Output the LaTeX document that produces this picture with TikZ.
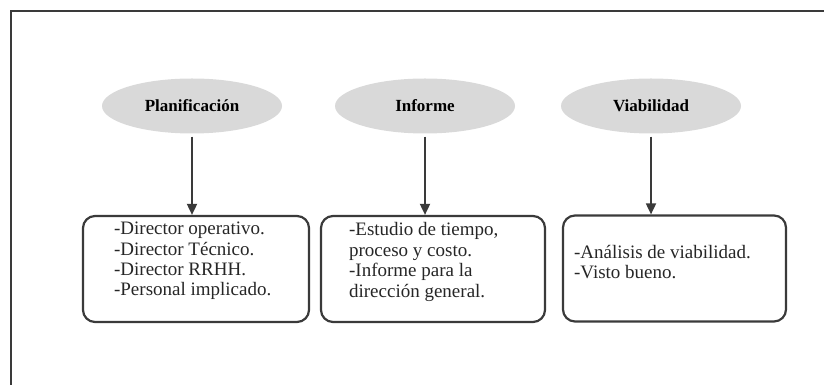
\documentclass[tikz,border=0pt]{standalone}
\usepackage{fontspec}
\setmainfont{Liberation Serif}
\usetikzlibrary{shapes.geometric,arrows.meta}
\definecolor{ovalgray}{HTML}{D9D9D9}
\definecolor{linegray}{HTML}{3A3A3A}
\definecolor{textgray}{HTML}{262626}
\tikzstyle{phase}=[ellipse,fill=ovalgray,minimum width=180pt,minimum height=55pt,inner sep=0pt,text=black,font=\fontsize{17}{18}\selectfont\bfseries]
\tikzstyle{taskbox}=[draw=linegray,line width=2.2pt,rounded corners=12pt,minimum height=106pt,inner sep=0pt]
\tikzstyle{tasktext}=[anchor=west,align=left,inner sep=0pt,text=textgray,font=\fontsize{19}{20.4}\selectfont]

\begin{document}
\begin{tikzpicture}[x=1pt,y=1pt]
    \useasboundingbox (0,0) rectangle (824,385);
    \draw[linegray,line width=2.6pt] (11,0) -- (11,374) -- (824,374);

    \node[phase] (p1) at (192,279) {Planificación};
    \node[phase] (p2) at (425,279) {Informe};
    \node[phase] (p3) at (651,279) {Viabilidad};

    \node[taskbox,minimum width=226pt] (b1) at (196,116) {};
    \node[taskbox,minimum width=224pt] (b2) at (433,116) {};
    \node[taskbox,minimum width=223pt] (b3) at (674.5,116.5) {};

    \node[tasktext] (t1) at ([xshift=32pt,yshift=8pt]b1.west) {-Director operativo.\\-Director Técnico.\\-Director RRHH.\\-Personal implicado.};
    \node[tasktext] (t2) at ([xshift=29pt,yshift=7pt]b2.west) {-Estudio de tiempo,\\proceso y costo.\\-Informe para la\\dirección general.};
    \node[tasktext] (t3) at ([xshift=12pt,yshift=6.5pt]b3.west) {-Análisis de viabilidad.\\-Visto bueno.};

    \foreach \from/\to in {p1/b1,p2/b2,p3/b3}
    \draw[linegray,line width=1.8pt,-{Triangle[width=10pt,length=11pt]}] ([yshift=-3pt]\from.south) -- (\from.south |- \to.north);
\end{tikzpicture}
\end{document}
